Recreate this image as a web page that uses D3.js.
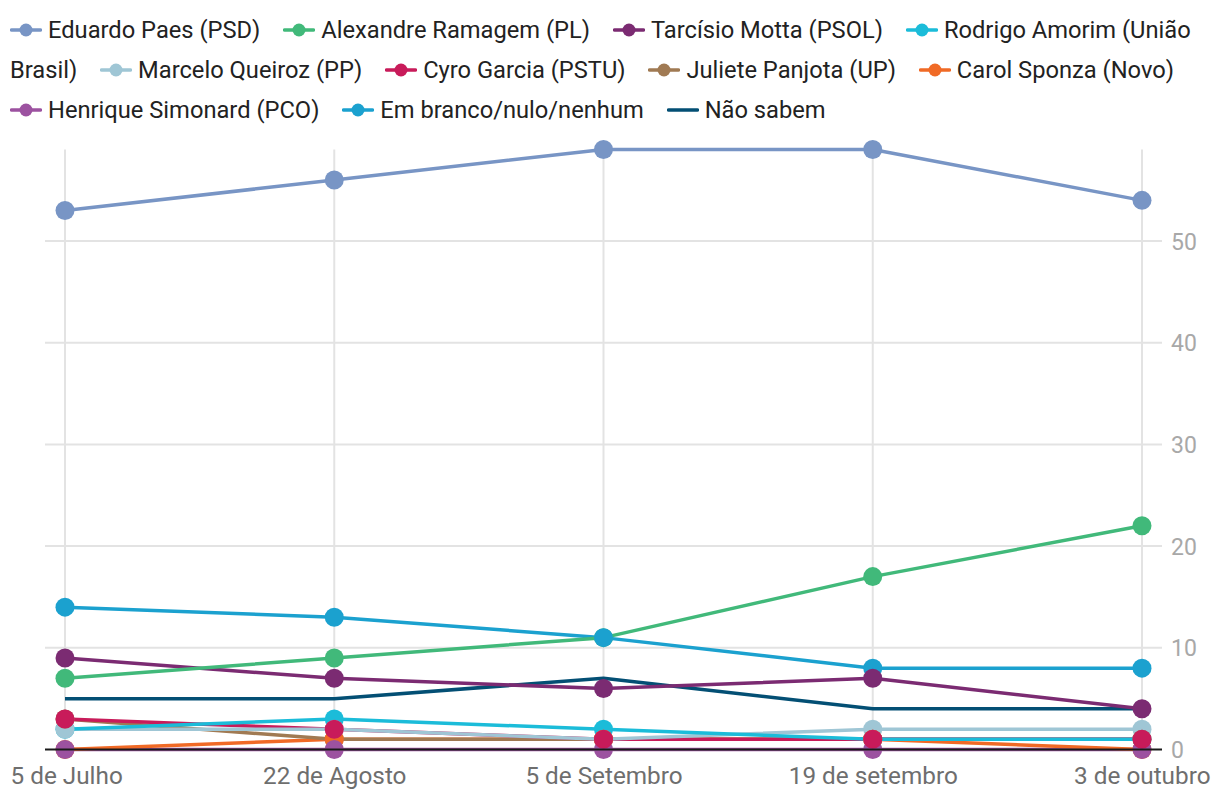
<!DOCTYPE html>
<html>
<head>
<meta charset="utf-8">
<script src="https://cdn.jsdelivr.net/npm/d3@7"></script>
<style>
  html, body { margin: 0; padding: 0; background: #fff; }
  body { width: 1220px; height: 800px; position: relative; overflow: hidden; font-family: Roboto, "Noto Sans", sans-serif; }
  #legend { position: absolute; left: 10px; top: 10px; width: 1200px; font-size: 23.7px; line-height: 40px; color: #222; }
  .sym { display: inline-block; vertical-align: middle; margin-right: 6px; position: relative; top: -2px; }
  .gap { display: inline-block; width: 17px; }
  svg#chart { position: absolute; left: 0; top: 0; }
</style>
</head>
<body>
<div id="legend"></div>
<svg id="chart" width="1220" height="800"></svg>
<script>
const dates = ["5 de Julho", "22 de Agosto", "5 de Setembro", "19 de setembro", "3 de outubro"];
const seriesNames = ["Eduardo Paes (PSD)", "Alexandre Ramagem (PL)", "Tarcísio Motta (PSOL)", "Rodrigo Amorim (União Brasil)", "Marcelo Queiroz (PP)", "Cyro Garcia (PSTU)", "Juliete Panjota (UP)", "Carol Sponza (Novo)", "Henrique Simonard (PCO)", "Em branco/nulo/nenhum", "Não sabem"];
const paes      = [53, 56, 59, 59, 54];
const ramagem   = [7, 9, 11, 17, 22];
const tarcisio  = [9, 7, 6, 7, 4];
const amorim    = [2, 3, 2, 1, 1];
const queiroz   = [2, 2, 1, 2, 2];
const cyro      = [3, 2, 1, 1, 1];
const juliete   = [3, 1, 1, 1, 1];
const carol     = [0, 1, 1, 1, 0];
const henrique  = [0, 0, 0, 0, 0];
const branco    = [14, 13, 11, 8, 8];
const naoSabem  = [5, 5, 7, 4, 4];
const yTicks = [0, 10, 20, 30, 40, 50];

const colors = ["#7895c5", "#41b97a", "#7b2b72", "#1bbcd9", "#9fc6d5", "#c81b5a", "#a07a53", "#f06a26", "#9c52a0", "#1ba1cf", "#034f74"];
const valuesList = [paes, ramagem, tarcisio, amorim, queiroz, cyro, juliete, carol, henrique, branco, naoSabem];
const hasDots = [true, true, true, true, true, true, true, true, true, true, false];

const series = seriesNames.map((n, i) => ({ name: n, color: colors[i], values: valuesList[i], dots: hasDots[i], idx: i }));

// Legend (HTML flow so that long names wrap like the original)
const legend = d3.select("#legend");
series.forEach((s, i) => {
  const item = legend.append("span").attr("class", "item");
  const sv = item.append("svg").attr("class", "sym").attr("width", 32).attr("height", 16);
  sv.append("line").attr("x1", 1.5).attr("x2", 30.5).attr("y1", 8).attr("y2", 8)
    .attr("stroke", s.color).attr("stroke-width", 3.5).attr("stroke-linecap", "round");
  if (s.dots) sv.append("circle").attr("cx", 16).attr("cy", 8).attr("r", 6.5).attr("fill", s.color);
  item.append("span").text(s.name);
  if (i < series.length - 1) {
    legend.node().appendChild(document.createTextNode(" "));
    legend.append("span").attr("class", "gap");
  }
});

const svg = d3.select("#chart");
const x = d3.scalePoint().domain(dates).range([65, 1142]);
const y = d3.scaleLinear().domain([0, 59]).range([749.5, 149.5]);
const left = 45, right = 1162;

// horizontal grid
svg.append("g").selectAll("line").data(yTicks.filter(t => t > 0)).join("line")
  .attr("x1", left).attr("x2", right).attr("y1", d => y(d)).attr("y2", d => y(d))
  .attr("stroke", "#e3e3e3").attr("stroke-width", 2);
// vertical grid
svg.append("g").selectAll("line").data(dates).join("line")
  .attr("x1", d => x(d)).attr("x2", d => x(d)).attr("y1", y(59)).attr("y2", y(0))
  .attr("stroke", "#e3e3e3").attr("stroke-width", 2);

// y axis labels
const yAxis = d3.axisRight(y).tickValues(yTicks).tickSize(0).tickPadding(0);
const yg = svg.append("g").attr("transform", `translate(1171,0)`).call(yAxis);
yg.select(".domain").remove();
yg.selectAll("text").attr("font-family", "Roboto, sans-serif").attr("font-size", 23).attr("fill", "#a8a8a8").attr("dy", "0.35em");

// x axis labels
const xAxis = d3.axisBottom(x).tickSize(0).tickPadding(0);
const xg = svg.append("g").attr("transform", `translate(0,784)`).call(xAxis);
xg.select(".domain").remove();
xg.selectAll("text").attr("font-family", "Roboto, sans-serif").attr("font-size", 24.3).attr("fill", "#6e6e6e").attr("dy", 0);
xg.selectAll(".tick").each(function(d) {
  const t = d3.select(this).select("text");
  const w = t.node().getComputedTextLength();
  const cx = x(d);
  if (cx + w / 2 > 1210) t.attr("text-anchor", "end").attr("x", 1210 - cx);
  if (cx - w / 2 < 10) t.attr("text-anchor", "start").attr("x", 10 - cx);
});

// lines
const line = d3.line().x((d, i) => x(dates[i])).y(d => y(d));
const lineOrder = series.slice().reverse();
svg.append("g").selectAll("path").data(lineOrder).join("path")
  .attr("d", s => line(s.values))
  .attr("fill", "none").attr("stroke", s => s.color).attr("stroke-width", 3.5)
  .attr("stroke-linejoin", "round");

// dots
const dotOrder = [0, 1, 9, 3, 4, 6, 7, 8, 2, 5];
const dotG = svg.append("g");
dotOrder.forEach(k => {
  const s = series[k];
  dotG.append("g").selectAll("circle").data(s.values).join("circle")
    .attr("cx", (d, i) => x(dates[i])).attr("cy", d => y(d)).attr("r", 9.5).attr("fill", s.color);
});

// zero baseline
svg.append("line").attr("x1", left).attr("x2", right).attr("y1", y(0)).attr("y2", y(0))
  .attr("stroke", "#1a1a1a").attr("stroke-width", 2);
</script>
</body>
</html>
